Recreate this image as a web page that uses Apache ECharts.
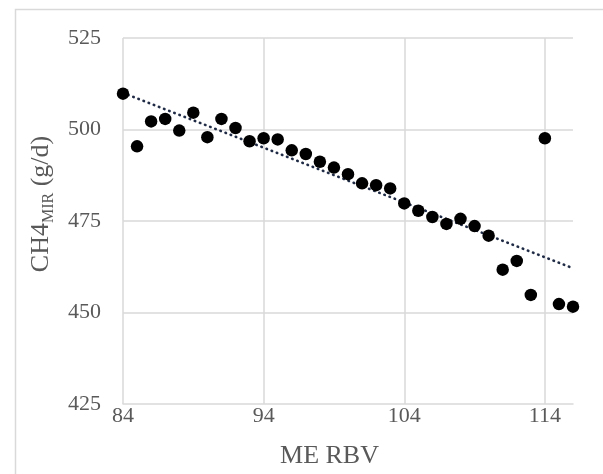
<!DOCTYPE html>
<html>
<head>
<meta charset="utf-8">
<script src="https://cdn.jsdelivr.net/npm/echarts@6/dist/echarts.min.js"></script>
<style>
  html, body { margin: 0; padding: 0; background: #fff; }
  #view { width: 603px; height: 474px; }
</style>
</head>
<body>
<div id="view"></div>
<script>
// ME RBV (x) vs CH4 MIR (y)
var meRbv = [84, 85, 86, 87, 88, 89, 90, 91, 92, 93, 94, 95, 96, 97, 98, 99, 100,
             101, 102, 103, 104, 105, 106, 107, 108, 109, 110, 111, 112, 113, 114, 115, 116];
var ch4Mir = [509.8, 495.4, 502.2, 502.9, 499.7, 504.6, 497.9, 502.9, 500.4, 496.8, 497.6, 497.3, 494.3,
              493.3, 491.2, 489.6, 487.8, 485.3, 484.8, 483.9, 479.8, 477.8, 476.1, 474.2, 475.6,
              473.6, 471.0, 461.7, 464.1, 454.8, 497.6, 452.3, 451.6];
// dotted trend line end points
var trendX = [84, 116];
var trendY = [510, 462.1];
var xTicks = [84, 116, 10];   // min, max, interval
var yTicks = [425, 525, 25];

var myChart = echarts.init(document.getElementById('view'));
var font = 'Liberation Serif';
var grey = '#595959';

var option = {
    backgroundColor: '#fff',
    animation: false,
    graphic: [{
        type: 'rect',
        shape: {x: 15.5, y: 9.5, width: 700, height: 600},
        style: {fill: 'none', stroke: '#d9d9d9', lineWidth: 1.5},
        silent: true
    }],
    grid: {left: 123, right: 30, top: 38, bottom: 68},
    xAxis: {
        type: 'value',
        min: xTicks[0], max: xTicks[1], interval: xTicks[2],
        name: 'ME RBV',
        nameLocation: 'middle',
        nameGap: 39,
        nameTextStyle: {fontFamily: font, fontSize: 26, color: grey, padding: [0, 37, 0, 0]},
        axisLine: {show: true, lineStyle: {color: '#d9d9d9', width: 1.5}},
        axisTick: {show: false},
        axisLabel: {fontFamily: font, fontSize: 22, color: grey, margin: 1, showMaxLabel: false},
        splitLine: {show: true, showMaxLine: false, lineStyle: {color: '#d9d9d9', width: 1.5}}
    },
    yAxis: {
        type: 'value',
        min: yTicks[0], max: yTicks[1], interval: yTicks[2],
        name: '{n|CH4}{s|MIR}{n| (g/d)}',
        nameLocation: 'middle',
        nameGap: 68,
        nameTextStyle: {
            color: grey,
            padding: [0, 0, 0, 34],
            rich: {
                n: {fontFamily: font, fontSize: 26, color: grey, lineHeight: 30, verticalAlign: 'bottom'},
                s: {fontFamily: font, fontSize: 16, color: grey, lineHeight: 16, verticalAlign: 'bottom', padding: [0, 0, -3, 0]}
            }
        },
        axisLine: {show: false},
        axisTick: {show: false},
        axisLabel: {fontFamily: font, fontSize: 22, color: grey, margin: 22},
        splitLine: {show: true, showMinLine: false, lineStyle: {color: '#d9d9d9', width: 1.5}}
    },
    series: [{
        name: 'trend',
        type: 'line',
        data: trendX.map(function (x, i) { return [x, trendY[i]]; }),
        symbol: 'none',
        lineStyle: {color: '#1f2a44', width: 2.6, type: [0.5, 5], cap: 'round'},
        z: 3
    }, {
        name: 'CH4',
        type: 'scatter',
        data: meRbv.map(function (x, i) { return [x, ch4Mir[i]]; }),
        symbolSize: 12.5,
        itemStyle: {color: '#000', opacity: 1},
        z: 4
    }]
};
myChart.setOption(option);
</script>
</body>
</html>
